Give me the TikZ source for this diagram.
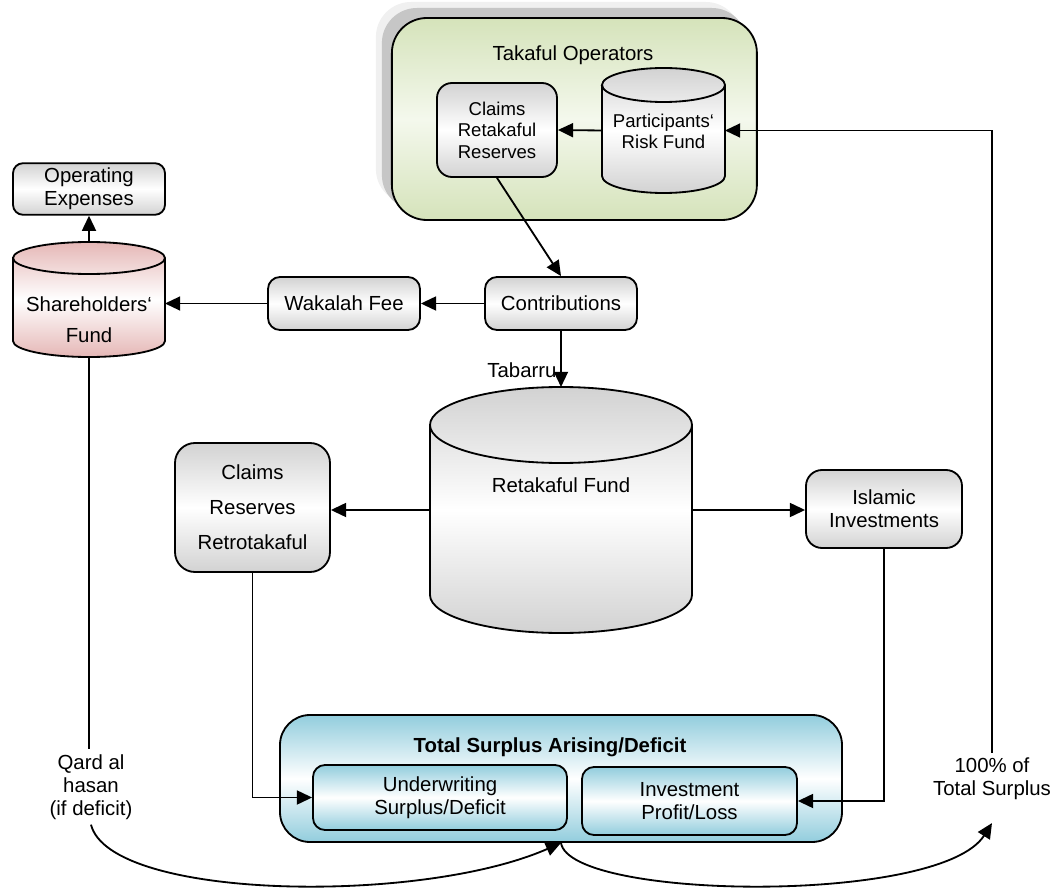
\documentclass[tikz,border=0pt]{standalone}
\usepackage{fontspec}
\setmainfont{Liberation Sans}
\usetikzlibrary{arrows.meta,shadows}

\definecolor{olivelight}{RGB}{213,227,186}
\definecolor{olivepale}{RGB}{244,248,237}
\definecolor{pinklight}{RGB}{229,183,182}
\definecolor{bluelight}{RGB}{146,205,221}
\definecolor{greylight}{RGB}{210,210,210}

\newcommand{\bigtxt}{\fontsize{14.5}{16.5}\selectfont}
\newcommand{\smalltxt}{\fontsize{13.2}{15.3}\selectfont}

% cylinder round a node: node, x radius, y radius, colour
\newcommand{\drumpath}[4]{%
  \path[draw, line width=1.3pt, top color=#4, bottom color=#4, middle color=white]
    ([yshift=-#3]#1.north west) -- ([yshift=#3]#1.south west)
    arc[start angle=180, end angle=360, x radius=#2, y radius=#3]
    -- ([yshift=-#3]#1.north east)
    arc[start angle=0, end angle=180, x radius=#2, y radius=#3] -- cycle;
  \draw[line width=1.3pt] ([yshift=-#3]#1.north west)
    arc[start angle=180, end angle=360, x radius=#2, y radius=#3];
}

\begin{document}
\begin{tikzpicture}[
    box/.style={draw, line width=1.3pt, rounded corners=0.3cm, align=center,
      top color=greylight, bottom color=greylight, middle color=white, font=\bigtxt},
    bluebox/.style={box, top color=bluelight, bottom color=bluelight, middle color=white},
    drum/.style={inner sep=0pt, outer sep=0pt},
    txt/.style={align=center, font=\bigtxt},
    flow/.style={line width=1.3pt, -{Triangle[length=0.38cm,width=0.35cm]}},
  ]
  \useasboundingbox (0,0) rectangle (26.4,-22.2);

  % takaful operators
  \node (takaful) at (14.36,-2.975) [draw, line width=1.3pt, rounded corners=0.875cm,
    minimum width=9.125cm, minimum height=5.05cm,
    top color=olivelight, bottom color=olivelight, middle color=olivepale,
    general shadow={shadow xshift=-0.4cm, shadow yshift=0.4cm, fill=gray!12},
    general shadow={shadow xshift=-0.25cm, shadow yshift=0.25cm, fill=gray!45}] {};
  \node (takafultitle) at (14.325,-1.375) [txt] {Takaful Operators};
  \node (claims1) at (12.425,-3.25) [box, font=\smalltxt, minimum width=3cm,
    minimum height=2.35cm, rounded corners=0.375cm] {Claims\\Retakaful\\Reserves};
  \node (prf) at (16.5875,-3.2625) [drum, minimum width=3.075cm, minimum height=3.125cm] {};
  \drumpath{prf}{1.5375cm}{0.425cm}{greylight}
  \node (prftext) at (16.5875,-3.29) [txt, font=\smalltxt] {Participants‘\\Risk Fund};

  % shareholders side
  \node (opex) at (2.225,-4.725) [box, minimum width=3.8cm, minimum height=1.2cm,
    rounded corners=0.25cm] {Operating\\Expenses};
  \node (shf) at (2.225,-7.4875) [drum, minimum width=3.8cm, minimum height=2.875cm] {};
  \drumpath{shf}{1.9cm}{0.4cm}{pinklight}
  \node (shftext) at (2.225,-8.0) [txt] {Shareholders‘\\[0.2cm]Fund};
  \node (wakalah) at (8.6,-7.5875) [box, minimum width=3.8cm, minimum height=1.325cm] {Wakalah Fee};
  \node (contrib) at (14.025,-7.5875) [box, minimum width=3.8cm, minimum height=1.325cm] {Contributions};

  % retakaful fund
  \node (rtf) at (14.025,-12.75) [drum, minimum width=6.55cm, minimum height=6.15cm] {};
  \drumpath{rtf}{3.275cm}{0.95cm}{greylight}
  \node (rtftext) at (14.025,-12.125) [txt] {Retakaful Fund};
  \node (tabarru) at (13.05,-9.25) [txt] {Tabarru};
  \node (claims2) at (6.3125,-12.6875) [box, minimum width=3.875cm, minimum height=3.225cm,
    rounded corners=0.5cm] {Claims\\[0.3cm]Reserves\\[0.3cm]Retrotakaful};
  \node (invest) at (22.1,-12.725) [box, minimum width=3.9cm, minimum height=1.95cm,
    rounded corners=0.4cm] {Islamic\\Investments};

  % surplus
  \node (surplus) at (14.025,-19.4625) [bluebox, minimum width=14.05cm,
    minimum height=3.175cm, rounded corners=0.75cm] {};
  \node (surplustitle) at (13.75,-18.675) [txt, font=\bigtxt\bfseries] {Total Surplus Arising/Deficit};
  \node (uw) at (11.0,-19.9375) [bluebox, minimum width=6.35cm, minimum height=1.625cm] {Underwriting\\Surplus/Deficit};
  \node (inv) at (17.2375,-20.025) [bluebox, minimum width=5.375cm, minimum height=1.7cm] {Investment\\Profit/Loss};
  \node (qard) at (2.275,-19.675) [txt] {Qard al\\hasan\\(if deficit)};
  \node (pct) at (24.8,-19.475) [txt] {100\% of\\Total Surplus};

  \draw[flow] (prf.west) -- (claims1.east);
  \draw[flow] (pct.north) |- (prf.east);
  \draw[flow] (claims1.south) -- (contrib.north);
  \draw[flow] (contrib.west) -- (wakalah.east);
  \draw[flow] (wakalah.west) -- (wakalah.west -| shf.east);
  \draw[flow] (shf.north) -- (opex.south);
  \draw[flow] (contrib.south) -- (rtf.north);
  \draw[flow] (rtf.west) -- (rtf.west -| claims2.east);
  \draw[flow] (rtf.east) -- (rtf.east -| invest.west);
  \draw[flow] (claims2.south) |- (uw.west);
  \draw[flow] (invest.south) |- (inv.east);
  \draw[line width=1.3pt] (shf.south) -- (shf.south |- qard.north);
  \draw[flow] (qard.south) .. controls (2.75,-22.5) and (10.5,-22.625) .. (surplus.south);
  \draw[flow] (surplus.south) .. controls (14.25,-22.5) and (23.5,-22.625) .. ([yshift=-0.45cm]pct.south);
\end{tikzpicture}
\end{document}
